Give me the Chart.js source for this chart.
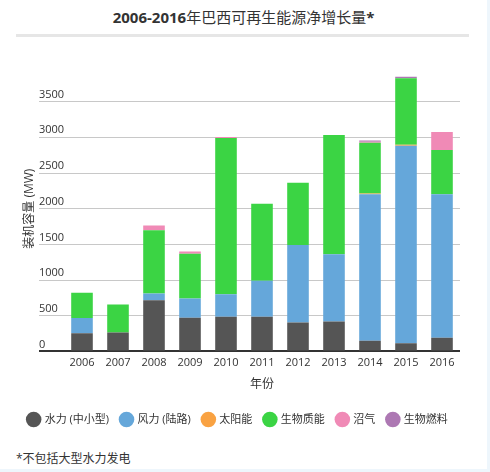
<!DOCTYPE html>
<html>
<head>
<meta charset="utf-8">
<script src="https://cdn.jsdelivr.net/npm/chart.js@4"></script>
<style>
  html, body { margin: 0; padding: 0; background: #eef6fc; }
  body { width: 490px; height: 472px; overflow: hidden; font-family: 'Open Sans', 'Noto Sans CJK SC', sans-serif; }
  .card { position: absolute; left: 0; top: 0; width: 487px; height: 469px; background: #fff; }
  .title { position: absolute; left: 0; top: 6px; width: 487px; text-align: center; font-size: 15px; color: #333; }
  .title b { font-weight: 700; }
  .bar { position: absolute; left: 16px; top: 34px; width: 453px; height: 3px; background: #e6e6e6; }
  .chart { position: absolute; left: 0; top: 40px; width: 487px; height: 395px; }
  .note { position: absolute; left: 16px; top: 449px; font-size: 12px; color: #333; }
</style>
</head>
<body>
<div class="card">
  <div class="title"><b>2006-2016</b>年巴西可再生能源净增长量<b>*</b></div>
  <div class="bar"></div>
  <div class="chart"><canvas id="renewChart"></canvas></div>
  <div class="note">*不包括大型水力发电</div>
</div>
<script>
// 年份
var years = ["2006", "2007", "2008", "2009", "2010", "2011", "2012", "2013", "2014", "2015", "2016"];

// 各类能源净增长量 (MW)
var hydro   = [255, 264, 717, 472, 486, 486, 406, 420, 151, 113, 193];
var wind    = [212, 0, 94, 269, 316, 504, 1085, 943, 2052, 2769, 2010];
var solar   = [0, 0, 0, 0, 0, 0, 0, 0, 10, 15, 0];
var biomass = [354, 395, 887, 627, 2189, 1081, 872, 1670, 712, 933, 618];
var biogas  = [0, 0, 66, 33, 14, 0, 0, 0, 12, 0, 254];
var biofuel = [0, 0, 0, 0, 0, 0, 0, 0, 20, 19, 0];

var seriesNames = ["水力 (中小型)", "风力 (陆路)", "太阳能", "生物质能", "沼气", "生物燃料"];
var seriesColors = ["#555555", "#65a7da", "#f9a242", "#3bd444", "#f08ab6", "#ad78b3"];

var fontFamily = "'Open Sans', 'Noto Sans CJK SC', sans-serif";
var yMax = 4000;

var datasets = [hydro, wind, solar, biomass, biogas, biofuel].map(function (values, i) {
  return {
    label: seriesNames[i],
    data: values,
    backgroundColor: seriesColors[i],
    borderWidth: 0,
    barPercentage: 0.6,
    categoryPercentage: 1.0,
  };
});

new Chart(document.getElementById("renewChart"), {
  type: "bar",
  data: { labels: years, datasets: datasets },
  options: {
    responsive: true,
    maintainAspectRatio: false,
    animation: false,
    layout: { padding: { left: 16, right: 27, top: 26, bottom: 0 } },
    plugins: {
      tooltip: { enabled: false },
      legend: {
        position: "bottom",
        labels: {
          usePointStyle: true,
          pointStyle: "circle",
          boxWidth: 12,
          boxHeight: 12,
          padding: 12,
          color: "#333",
          font: { family: fontFamily, size: 11 },
        },
      },
    },
    scales: {
      x: {
        stacked: true,
        grid: { display: false },
        border: { display: false },
        ticks: { color: "#333", font: { family: fontFamily, size: 11 }, padding: -3 },
        title: {
          display: true,
          text: "年份",
          color: "#333",
          font: { family: fontFamily, size: 12 },
          padding: { top: 11, bottom: 10 },
        },
      },
      y: {
        stacked: true,
        min: 0,
        max: yMax,
        border: { display: false },
        afterFit: function (scale) {
          scale.width = 48;
        },
        grid: {
          color: function (ctx) {
            if (!ctx.tick) return "#c8c8c8";
            if (ctx.tick.value === yMax) return "rgba(0,0,0,0)";
            return ctx.tick.value === 0 ? "#333" : "#c8c8c8";
          },
          lineWidth: function (ctx) {
            return ctx.tick && ctx.tick.value === 0 ? 2 : 1;
          },
          tickLength: 25,
        },
        ticks: {
          stepSize: 500,
          mirror: true,
          padding: -25,
          labelOffset: -7,
          color: "#333",
          font: { family: fontFamily, size: 11 },
          callback: function (value) {
            return value === yMax ? "" : value;
          },
        },
        title: {
          display: true,
          text: "装机容量 (MW)",
          color: "#333",
          font: { family: fontFamily, size: 12 },
          padding: { top: 6, bottom: 4 },
        },
      },
    },
  },
});
</script>
</body>
</html>
